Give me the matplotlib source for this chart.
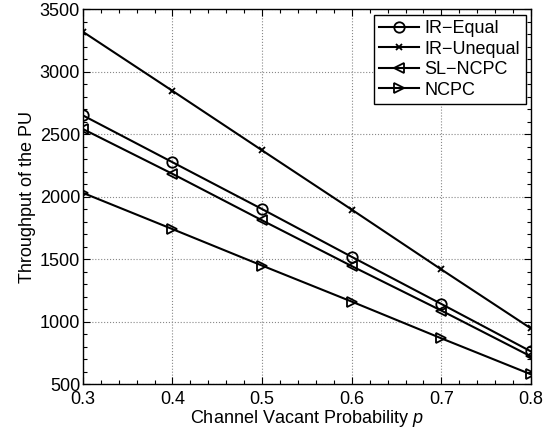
import matplotlib
matplotlib.use("Agg")
import matplotlib.pyplot as plt
from matplotlib.ticker import MultipleLocator

plt.rcParams['font.family'] = ['Liberation Sans', 'DejaVu Sans']
plt.rcParams['mathtext.fontset'] = 'custom'
plt.rcParams['mathtext.it'] = 'Liberation Sans:italic'

p = [0.3, 0.4, 0.5, 0.6, 0.7, 0.8]
ir_equal = [2650, 2275, 1900, 1518, 1141, 761]
ir_unequal = [3319, 2846, 2370, 1896, 1417, 945]
sl_ncpc = [2541, 2182, 1810, 1444, 1088, 721]
ncpc = [2030, 1740, 1448, 1160, 866, 578]

fig = plt.figure(figsize=(5.56, 4.34), dpi=100)
ax = fig.add_axes([0.149, 0.115, 0.806, 0.864])

ms = 7.5
lw = 1.5
ax.plot(p, ir_equal, 'k-', marker='o', mfc='none', ms=ms, mew=1.3, lw=lw, label='IR\u2212Equal')
ax.plot(p, ir_unequal, 'k-', marker='x', ms=5, mew=1.3, lw=lw, label='IR\u2212Unequal')
ax.plot(p, sl_ncpc, 'k-', marker='<', mfc='none', ms=ms, mew=1.3, lw=lw, label='SL\u2212NCPC')
ax.plot(p, ncpc, 'k-', marker='>', mfc='none', ms=ms, mew=1.3, lw=lw, label='NCPC')

ax.set_xlim(0.3, 0.8)
ax.set_ylim(500, 3500)
ax.xaxis.set_major_locator(MultipleLocator(0.1))
ax.xaxis.set_minor_locator(MultipleLocator(0.02))
ax.yaxis.set_major_locator(MultipleLocator(500))
ax.yaxis.set_minor_locator(MultipleLocator(100))
ax.tick_params(which='both', direction='in', top=True, right=True, labelsize=13, width=0.8)
ax.tick_params(which='major', length=5)
ax.tick_params(which='minor', length=3)
ax.tick_params(axis='y', pad=2)
ax.tick_params(axis='x', pad=5)
ax.grid(True, which='major', linestyle=':', color='#888888', linewidth=0.8)
for s in ax.spines.values():
    s.set_linewidth(1.0)

ax.set_xlabel('Channel Vacant Probability $p$', fontsize=13, labelpad=0)
ax.set_ylabel('Throughput of the PU', fontsize=13, labelpad=3)

leg = ax.legend(loc='upper right', fontsize=13, fancybox=False, edgecolor='black',
                framealpha=1, handlelength=2.2, borderpad=0.3, labelspacing=0.2,
                handletextpad=0.3, borderaxespad=0.3)
leg.get_frame().set_linewidth(1.0)

fig.savefig('out.png', dpi=100)
